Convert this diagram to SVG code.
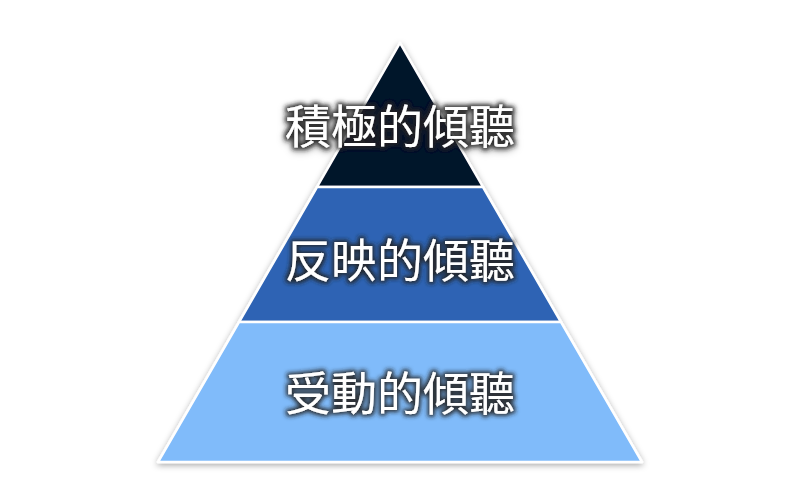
<svg xmlns="http://www.w3.org/2000/svg" width="800" height="500" viewBox="0 0 800 500">
<defs>
<filter id="sh" x="-10%" y="-10%" width="120%" height="120%"><feDropShadow dx="0" dy="2" stdDeviation="3" flood-color="#000" flood-opacity="0.35"/></filter>
<filter id="glow" x="-10%" y="-30%" width="120%" height="160%"><feMorphology in="SourceAlpha" operator="dilate" radius="2" result="d"/><feGaussianBlur in="d" stdDeviation="2" result="b"/><feFlood flood-color="#222" flood-opacity="0.9"/><feComposite in2="b" operator="in" result="g"/><feMerge><feMergeNode in="g"/><feMergeNode in="SourceGraphic"/></feMerge></filter>
</defs>
<style>.l{stroke:#fff;stroke-width:2.5;stroke-linejoin:round}.t{font-family:"Noto Sans CJK TC","Noto Sans CJK SC",sans-serif;font-size:46px;fill:#fff;text-anchor:middle;filter:url(#glow)}</style>
<rect width="800" height="500" fill="#fff"/>
<g filter="url(#sh)">
<g id="top"><polygon class="l" points="400,43 483,187 317,187" fill="#06122b"/><text class="t" x="400" y="143">積極的傾聽</text></g>
<g id="mid"><polygon class="l" points="317,187 483,187 561,322 239,322" fill="#2e64b4"/><text class="t" x="400" y="277">反映的傾聽</text></g>
<g id="bot"><polygon class="l" points="239,322 561,322 642,462 158,462" fill="#80bbfa"/><text class="t" x="400" y="410">受動的傾聽</text></g>
</g>
<g id="connectors"/>
</svg>
